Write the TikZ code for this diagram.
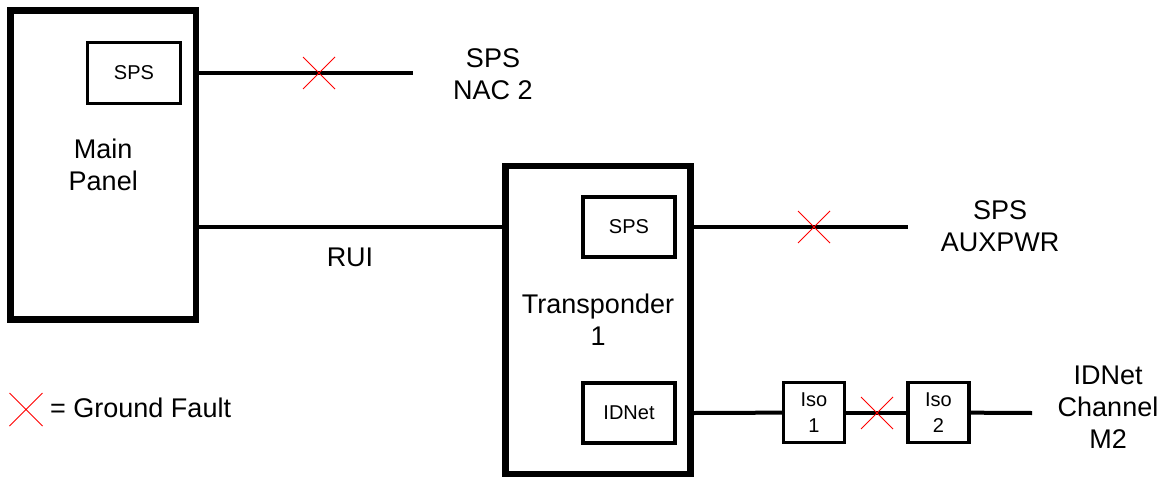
\documentclass[tikz,border=0pt]{standalone}
\usepackage{fontspec}
\setmainfont{Liberation Sans}
\usepackage{tikz}
\usetikzlibrary{shapes,positioning}

\begin{document}
\begin{tikzpicture}[x=1pt, y=-1pt,
  panel/.style={rectangle, draw, line width=6.5pt, inner sep=0pt, align=center, font=\fontsize{27}{32}\selectfont},
  box/.style={rectangle, draw, line width=3.5pt, minimum width=92pt, minimum height=60pt, inner sep=0pt, align=center, font=\fontsize{20}{26}\selectfont},
  iso/.style={box, minimum width=61pt},
  txt/.style={align=center, inner sep=0pt, font=\fontsize{27}{32}\selectfont},
  wire/.style={line width=4pt},
  gfault/.style={cross out, draw=red, line width=1pt, minimum size=31pt, inner sep=0pt}
]
\useasboundingbox (0,0) rectangle (1169,479);

% Main panel
\node[panel, minimum width=185.5pt, minimum height=309pt] (mainpanel) at (103.25,165) {Main\\Panel};
\node[box, minimum width=93pt, minimum height=61pt] (mainsps) at (134,73) {SPS};

% Transponder
\node[panel, minimum width=185pt, minimum height=308pt] (transp) at (598,320) {Transponder\\1};
\node[box] (tpsps) at (629,227) {SPS};
\node[box] (tpidnet) at (629,413) {IDNet};

% Isolators
\node[iso] (iso1) at (814,412.5) {Iso\\1};
\node[iso] (iso2) at (938.5,412.5) {Iso\\2};

% Wire ends
\coordinate (nacend) at (413,73);
\coordinate (auxend) at (908,227);
\coordinate (m2end) at (1032,413);

% Labels
\node[txt] (nacl) at (493,74) {SPS\\NAC 2};
\node[txt] (auxl) at (1000,226.5) {SPS\\AUXPWR};
\node[txt] (m2l) at (1108,407) {IDNet\\Channel\\M2};
\node[txt] (rui) at (350,257) {RUI};

% Connections
\draw[wire] (mainpanel.east |- mainsps) -- (nacend);
\draw[wire] (mainpanel.east |- tpsps) -- (transp.west |- tpsps);
\draw[wire] (transp.east |- tpsps) -- (auxend);
\draw[wire] (transp.east |- tpidnet) -- (iso1);
\draw[wire] (iso1) -- (iso2);
\draw[wire] (iso2) -- (m2end);

% Ground faults
\node[gfault] (f1) at (319,73) {};
\node[gfault] (f2) at (814,227) {};
\node[gfault] (f3) at (877,413) {};

% Legend
\node[gfault, minimum size=32pt] (fkey) at (26,409.5) {};
\node[txt, anchor=west] (keytxt) at (50,408) {= Ground Fault};
\end{tikzpicture}
\end{document}
